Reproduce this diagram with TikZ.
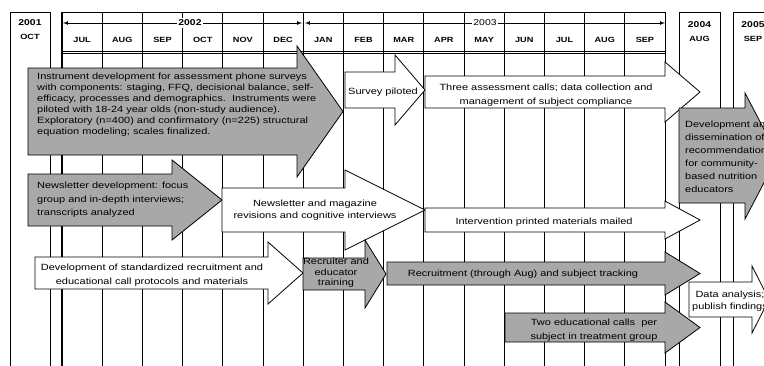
\documentclass[tikz,border=0pt]{standalone}
\usepackage{fontspec}
\setmainfont{Liberation Sans}[FakeStretch=1.22]
\usepackage{tikz}
\definecolor{bargray}{rgb}{0.66,0.66,0.66}

\begin{document}
\begin{tikzpicture}[x=1pt, y=-1pt, line join=miter,
  gridline/.style={line width=0.7pt},
  graybar/.style={fill=bargray, draw=black, line width=0.8pt},
  whitebar/.style={fill=white, draw=black, line width=0.8pt},
  bartext/.style={font=\fontsize{9}{11}\selectfont, inner sep=0pt},
  monthlabel/.style={font=\fontsize{7.5}{9}\selectfont\bfseries, inner sep=0pt},
  yearlabel/.style={font=\fontsize{8.5}{10}\selectfont\bfseries, inner sep=0pt}]
\clip (0,0) rectangle (764,365);
\fill[white] (0,0) rectangle (764,365);
% columns
\foreach \i in {0,...,15}
  \draw[gridline] (62+40.2*\i,12) -- (62+40.2*\i,370);
\draw[line width=1.4pt] (62,12) -- (62,370);
\draw[gridline] (62,12) -- (665,12);
\draw[gridline] (62,51) -- (665,51);
\draw[gridline] (62,53.5) -- (665,53.5);
\draw[gridline] (10,370) -- (10,12) -- (50,12) -- (50,370);
\draw[gridline] (679,370) -- (679,12) -- (720,12) -- (720,370);
\draw[gridline] (733,370) -- (733,12) -- (790,12);
\node[yearlabel] (y2001) at (30,23) {2001};
\node[monthlabel] (oct2001) at (30,37) {OCT};
\node[yearlabel] (y2004) at (699.5,25) {2004};
\node[monthlabel] (aug2004) at (699.5,39) {AUG};
\node[yearlabel] (y2005) at (753,25) {2005};
\node[monthlabel] (sep2005) at (753,39) {SEP};
\foreach \m [count=\i] in {JUL,AUG,SEP,OCT,NOV,DEC,JAN,FEB,MAR,APR,MAY,JUN,JUL,AUG,SEP}
  \node[monthlabel] (mon\i) at (41.9+40.2*\i,40) {\m};
% year spans
\coordinate (l2002) at (63,23);
\coordinate (r2002) at (302,23);
\coordinate (l2003) at (305,23);
\coordinate (r2003) at (665,23);
\node[yearlabel, fill=white, inner sep=1.5pt] (y2002) at (190,23) {2002};
\node[yearlabel, font=\fontsize{8.5}{10}\selectfont, fill=white, inner sep=1.5pt] (y2003) at (485,23) {2003};
\draw[-latex, gridline] (y2002) -- (l2002);
\draw[-latex, gridline] (y2002) -- (r2002);
\draw[-latex, gridline] (y2003) -- (l2003);
\draw[-latex, gridline] (y2003) -- (r2003);
% bars
\draw[graybar] (28,68) -- (297,68) -- (297,46) -- (343,111.5) -- (297,177) -- (297,155) -- (28,155) -- cycle;
\node[bartext, anchor=west, align=left] (instr) at (37,105) {Instrument development for assessment phone surveys\\
  with components: staging, FFQ, decisional balance, self-\\
  efficacy, processes and demographics.\ \ Instruments were\\
  piloted with 18-24 year olds (non-study audience).\\
  Exploratory (n=400) and confirmatory (n=225) structural\\
  equation modeling; scales finalized.};
\draw[whitebar] (345,72) -- (395,72) -- (395,55) -- (425,90) -- (395,125) -- (395,108) -- (345,108) -- cycle;
\node[bartext] (survey) at (383,92) {Survey piloted};
\draw[whitebar] (425,76) -- (665,76) -- (665,62) -- (700,92) -- (665,122) -- (665,108) -- (425,108) -- cycle;
\node[bartext, align=center, font=\fontsize{9}{14}\selectfont] (assess) at (546,95) {Three assessment calls; data collection and\\management of subject compliance};
\draw[graybar] (679,108) -- (745,108) -- (745,93) -- (778,156) -- (745,219) -- (745,203) -- (679,203) -- cycle;
\node[bartext, anchor=west, align=left, font=\fontsize{9}{13}\selectfont] (dissem) at (685,157) {Development and\\dissemination of\\recommendations\\for community-\\based nutrition\\educators};
\draw[graybar] (28,174) -- (172,174) -- (172,160) -- (222,200) -- (172,240) -- (172,226) -- (28,226) -- cycle;
\node[bartext, anchor=west, align=left, font=\fontsize{9}{13.5}\selectfont] (newsdev) at (37,200) {Newsletter development: focus\\group and in-depth interviews;\\transcripts analyzed};
\draw[whitebar] (222,188) -- (345,188) -- (345,170) -- (425,210) -- (345,250) -- (345,232) -- (222,232) -- cycle;
\node[bartext, align=center, font=\fontsize{9}{12}\selectfont] (newsrev) at (315,210) {Newsletter and magazine\\revisions and cognitive interviews};
\draw[whitebar] (425,208) -- (665,208) -- (665,201) -- (700,220) -- (665,239) -- (665,232) -- (425,232) -- cycle;
\node[bartext] (mailed) at (544,222) {Intervention printed materials mailed};
\draw[whitebar] (35,257) -- (268,257) -- (268,242) -- (303,273) -- (268,304) -- (268,289) -- (35,289) -- cycle;
\node[bartext, align=center, font=\fontsize{9}{14}\selectfont] (protocols) at (152,275) {Development of standardized recruitment and\\educational call protocols and materials};
\draw[graybar] (303,258) -- (365,258) -- (365,240) -- (386,274) -- (365,308) -- (365,290) -- (303,290) -- cycle;
\node[bartext, align=center, font=\fontsize{9}{10.5}\selectfont] (training) at (336,273) {Recruiter and\\educator\\training};
\draw[graybar] (387,262) -- (665,262) -- (665,252) -- (700,273.5) -- (665,295) -- (665,285) -- (387,285) -- cycle;
\node[bartext] (recruit) at (523,274) {Recruitment (through Aug) and subject tracking};
\draw[graybar] (505,313) -- (665,313) -- (665,302) -- (700,327.5) -- (665,353) -- (665,342) -- (505,342) -- cycle;
\node[bartext, align=center, font=\fontsize{9}{14}\selectfont] (educalls) at (594,330) {Two educational calls\ \ per\\subject in treatment group};
\draw[whitebar] (689,282) -- (752,282) -- (752,266) -- (769,299.5) -- (752,333) -- (752,317) -- (689,317) -- cycle;
\node[bartext, align=center, font=\fontsize{9}{12}\selectfont] (analysis) at (730,301) {Data analysis;\\publish findings};
\end{tikzpicture}
\end{document}
